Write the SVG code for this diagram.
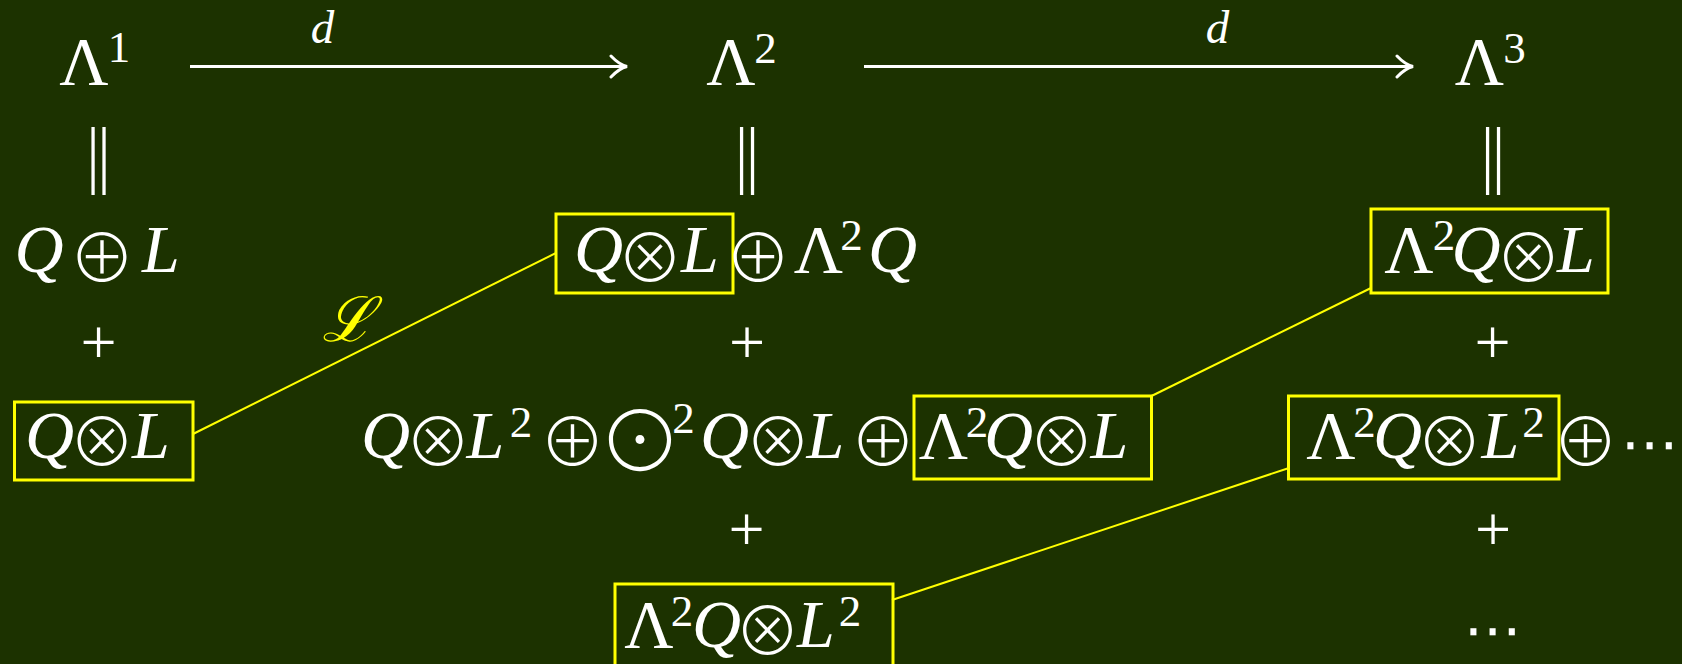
<svg xmlns="http://www.w3.org/2000/svg" width="1682" height="664" viewBox="0 0 1682 664">
<style>
.m{font-family:"Liberation Serif",serif;font-size:68px;fill:#fff;text-anchor:middle}
.i{font-style:italic}
.sup{font-size:45px;font-style:normal}
.op{font-family:"Noto Sans CJK JP",sans-serif;font-size:66px;font-style:normal;font-weight:300}
.dots{font-family:"DejaVu Sans",sans-serif;font-size:58px;font-style:normal}
.big{font-family:"Noto Sans CJK JP",sans-serif;font-size:84px;font-style:normal;font-weight:300}
.pl{font-size:64px}
.bars{font-family:"DejaVu Sans",sans-serif;font-size:68px;font-weight:200}
.lbl{font-size:47px;font-style:italic}
.box{fill:none;stroke:#ffff00;stroke-width:3}
.link{stroke:#ffff00;stroke-width:2;fill:none}
.arr{stroke:#fff;stroke-width:3;fill:none;marker-end:url(#ah)}
.cal{font-family:"DejaVu Serif",serif;font-style:italic;font-size:62px;fill:#ffff00;text-anchor:middle}
</style>
<defs>
<marker id="ah" markerUnits="userSpaceOnUse" viewBox="-18 -13 20 26" refX="0" refY="0" markerWidth="20" markerHeight="26" orient="auto">
<path d="M-16,-10.5 Q-8,-2 0,0 Q-8,2 -16,10.5" fill="none" stroke="#fff" stroke-width="3" stroke-linecap="round"/>
</marker>
</defs>
<rect width="1682" height="664" fill="#1c3200"/>

<g id="connectors">
<line class="arr" x1="190" y1="66.5" x2="627" y2="66.5"/>
<line class="arr" x1="864" y1="66.5" x2="1413" y2="66.5"/>
<text class="m lbl" x="322.5" y="43">d</text>
<text class="m lbl" x="1217.5" y="43">d</text>
<line class="link" x1="193" y1="434" x2="556" y2="253"/>
<text class="cal" x="348" y="341">ℒ</text>
<line class="link" x1="1151.5" y1="396" x2="1371" y2="288"/>
<line class="link" x1="892" y1="600" x2="1289" y2="468"/>
</g>

<g id="lambda1">
<text class="m"><tspan x="84" y="84">Λ</tspan><tspan class="sup" x="119" y="62">1</tspan></text>
<text class="m bars" x="98.5" y="179">‖</text>
</g>
<g id="lambda2">
<text class="m"><tspan x="731" y="84">Λ</tspan><tspan class="sup" x="765.5" y="63">2</tspan></text>
<text class="m bars" x="747" y="179">‖</text>
</g>
<g id="lambda3">
<text class="m"><tspan x="1479.5" y="84">Λ</tspan><tspan class="sup" x="1514.5" y="63">3</tspan></text>
<text class="m bars" x="1493" y="179">‖</text>
</g>

<g id="col1-sum">
<text class="m i"><tspan x="39" y="272">Q</tspan><tspan class="op" x="102" y="282">⊕</tspan><tspan x="161" y="272">L</tspan></text>
<text class="m pl" x="98.5" y="363.5">+</text>
</g>
<g id="col1-QL">
<rect class="box" x="14.5" y="402" width="178.5" height="78"/>
<text class="m i"><tspan x="49.5" y="458">Q</tspan><tspan class="op" x="102" y="466">⊗</tspan><tspan x="151" y="458">L</tspan></text>
</g>

<g id="col2-QL">
<rect class="box" x="556" y="214" width="177" height="79"/>
<text class="m i"><tspan x="598.5" y="272">Q</tspan><tspan class="op" x="650" y="282">⊗</tspan><tspan x="700" y="272">L</tspan></text>
</g>
<g id="col2-row1-rest">
<text class="m"><tspan class="op" x="758" y="282">⊕</tspan><tspan x="818.5" y="272">Λ</tspan><tspan class="sup" x="851.5" y="250">2</tspan><tspan class="i" x="892.5" y="272">Q</tspan></text>
<text class="m pl" x="747" y="363.5">+</text>
</g>
<g id="col2-row3">
<text class="m i"><tspan x="385.5" y="458">Q</tspan><tspan class="op" x="438" y="466">⊗</tspan><tspan x="485.5" y="458">L</tspan><tspan class="sup" x="521" y="437">2</tspan><tspan class="op" x="572.5" y="466">⊕</tspan><tspan class="big" x="640" y="472">⊙</tspan><tspan class="sup" x="683.5" y="433">2</tspan><tspan x="724.5" y="458">Q</tspan><tspan class="op" x="778" y="466">⊗</tspan><tspan x="825.5" y="458">L</tspan><tspan class="op" x="883" y="466">⊕</tspan></text>
</g>
<g id="col2-L2Q-L">
<rect class="box" x="914" y="396" width="237.5" height="83"/>
<text class="m"><tspan x="943.5" y="458">Λ</tspan><tspan class="sup" x="977" y="437">2</tspan><tspan class="i" x="1008.5" y="458">Q</tspan><tspan class="op" x="1061.5" y="466">⊗</tspan><tspan class="i" x="1109.5" y="458">L</tspan></text>
<text class="m pl" x="746.5" y="550.5">+</text>
</g>
<g id="col2-L2Q-L2">
<rect class="box" x="615" y="584" width="278" height="90"/>
<text class="m"><tspan x="649" y="647">Λ</tspan><tspan class="sup" x="682" y="626">2</tspan><tspan class="i" x="716.5" y="647">Q</tspan><tspan class="op" x="767.5" y="655">⊗</tspan><tspan class="i" x="816" y="647">L</tspan><tspan class="sup" x="850" y="626">2</tspan></text>
</g>

<g id="col3-L2Q-L">
<rect class="box" x="1371" y="209" width="237" height="84"/>
<text class="m"><tspan x="1409" y="272">Λ</tspan><tspan class="sup" x="1444" y="250">2</tspan><tspan class="i" x="1476" y="272">Q</tspan><tspan class="op" x="1528.5" y="282">⊗</tspan><tspan class="i" x="1576" y="272">L</tspan></text>
<text class="m pl" x="1492.5" y="363.5">+</text>
</g>
<g id="col3-L2Q-L2">
<rect class="box" x="1288.5" y="396" width="270.5" height="83"/>
<text class="m"><tspan x="1331" y="458">Λ</tspan><tspan class="sup" x="1364.5" y="437">2</tspan><tspan class="i" x="1397.5" y="458">Q</tspan><tspan class="op" x="1449.5" y="466">⊗</tspan><tspan class="i" x="1500.5" y="458">L</tspan><tspan class="sup" x="1533.5" y="437">2</tspan></text>
<text class="m"><tspan class="op" x="1585.5" y="466">⊕</tspan><tspan class="dots" x="1649.5" y="464">⋯</tspan></text>
<text class="m pl" x="1493" y="550.5">+</text>
<text class="m dots" x="1492.5" y="650">⋯</text>
</g>
</svg>
